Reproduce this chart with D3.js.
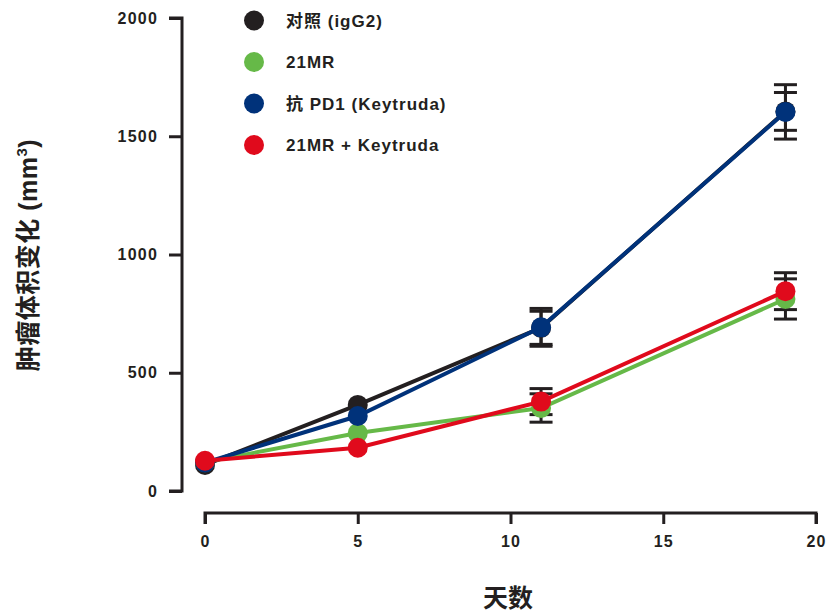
<!DOCTYPE html>
<html><head><meta charset="utf-8">
<script src="https://cdn.jsdelivr.net/npm/d3@7"></script>
<style>body{margin:0;background:#fff}svg{display:block}text{font-family:"Liberation Sans","Noto Sans CJK SC",sans-serif;font-weight:bold;fill:#231f20}</style>
</head><body><svg id="c" width="830" height="613"></svg>
<script>
const days = [0, 5, 11, 19];
const seriesNames = ["对照 (igG2)", "21MR", "抗 PD1 (Keytruda)", "21MR + Keytruda"];
const seriesColors = ["#231f20", "#66b948", "#00327a", "#e00a1c"];
const controlVals = [110, 364, 690, 1605];
const mr21Vals = [122, 245, 351, 812];
const pd1Vals = [120, 317, 692, 1603];
const comboVals = [128, 183, 378, 845];
const controlErr = [0, 0, 70, 80];
const mr21Err = [0, 0, 60, 85];
const pd1Err = [0, 0, 80, 115];
const comboErr = [0, 0, 55, 78];
const xTicks = [0, 5, 10, 15, 20];
const yTicks = [0, 500, 1000, 1500, 2000];

const series = [
  {name: seriesNames[0], color: seriesColors[0], vals: controlVals, err: controlErr},
  {name: seriesNames[1], color: seriesColors[1], vals: mr21Vals, err: mr21Err},
  {name: seriesNames[2], color: seriesColors[2], vals: pd1Vals, err: pd1Err},
  {name: seriesNames[3], color: seriesColors[3], vals: comboVals, err: comboErr}
];

const svg = d3.select("#c");
const x = d3.scaleLinear().domain([0, 20]).range([205, 816]);
const y = d3.scaleLinear().domain([0, 2000]).range([491, 18]);
const ink = "#231f20";

// Y axis
const yAx = svg.append("g").attr("transform", "translate(182,0)")
  .call(d3.axisLeft(y).tickValues(yTicks).tickSize(13).tickPadding(11).tickFormat(d3.format("d")));
yAx.select(".domain").attr("stroke", ink).attr("stroke-width", 3).attr("d", `M-13,${y(2000)}H0V${y(0)}H-13`);
yAx.selectAll(".tick line").attr("stroke", ink).attr("stroke-width", 3);
yAx.selectAll(".tick text").style("font-size", "16px").style("letter-spacing", "1.2px").attr("fill", ink);

// X axis
const xAx = svg.append("g").attr("transform", "translate(0,513)")
  .call(d3.axisBottom(x).tickValues(xTicks).tickSize(11).tickPadding(12));
xAx.select(".domain").attr("stroke", ink).attr("stroke-width", 3).attr("d", `M${x(0)},11V0H${x(20)}V11`);
xAx.selectAll(".tick line").attr("stroke", ink).attr("stroke-width", 3);
xAx.selectAll(".tick text").style("font-size", "16px").style("letter-spacing", "1.2px").attr("fill", ink);

// Error bars
const eb = svg.append("g");
series.forEach(s => {
  days.forEach((d, i) => {
    if (!s.err[i]) return;
    const cx = x(d), hi = y(s.vals[i] + s.err[i]), lo = y(s.vals[i] - s.err[i]);
    eb.append("line").attr("x1", cx).attr("x2", cx).attr("y1", hi).attr("y2", lo).attr("stroke", ink).attr("stroke-width", 3);
    [hi, lo].forEach(yy => eb.append("line").attr("x1", cx - 11.5).attr("x2", cx + 11.5).attr("y1", yy).attr("y2", yy).attr("stroke", ink).attr("stroke-width", 3));
  });
});

// Lines and markers
const line = d3.line().x((d, i) => x(days[i])).y(d => y(d));
series.forEach(s => {
  const g = svg.append("g");
  g.append("path").attr("d", line(s.vals)).attr("fill", "none").attr("stroke", s.color).attr("stroke-width", 4);
  g.selectAll("circle").data(s.vals).join("circle")
    .attr("cx", (d, i) => x(days[i])).attr("cy", d => y(d)).attr("r", 10).attr("fill", s.color);
});

// Legend
const lg = svg.append("g");
series.forEach((s, i) => {
  const yy = 20.5 + i * 41.5;
  lg.append("circle").attr("cx", 254).attr("cy", yy).attr("r", 10).attr("fill", s.color);
  lg.append("text").attr("x", 286).attr("y", yy + 6).style("font-size", "17px").style("letter-spacing", "1px").text(s.name);
});

// Axis titles
svg.append("text").attr("x", 508).attr("y", 607).attr("text-anchor", "middle").style("font-size", "25px").text("天数");
const yt = svg.append("text").attr("transform", "translate(37,255) rotate(-90)").attr("text-anchor", "middle").style("font-size", "25px").style("letter-spacing", "0.5px");
yt.append("tspan").text("肿瘤体积变化 (mm");
yt.append("tspan").attr("dy", -10).style("font-size", "15px").text("3");
yt.append("tspan").attr("dy", 10).text(")");
</script></body></html>
